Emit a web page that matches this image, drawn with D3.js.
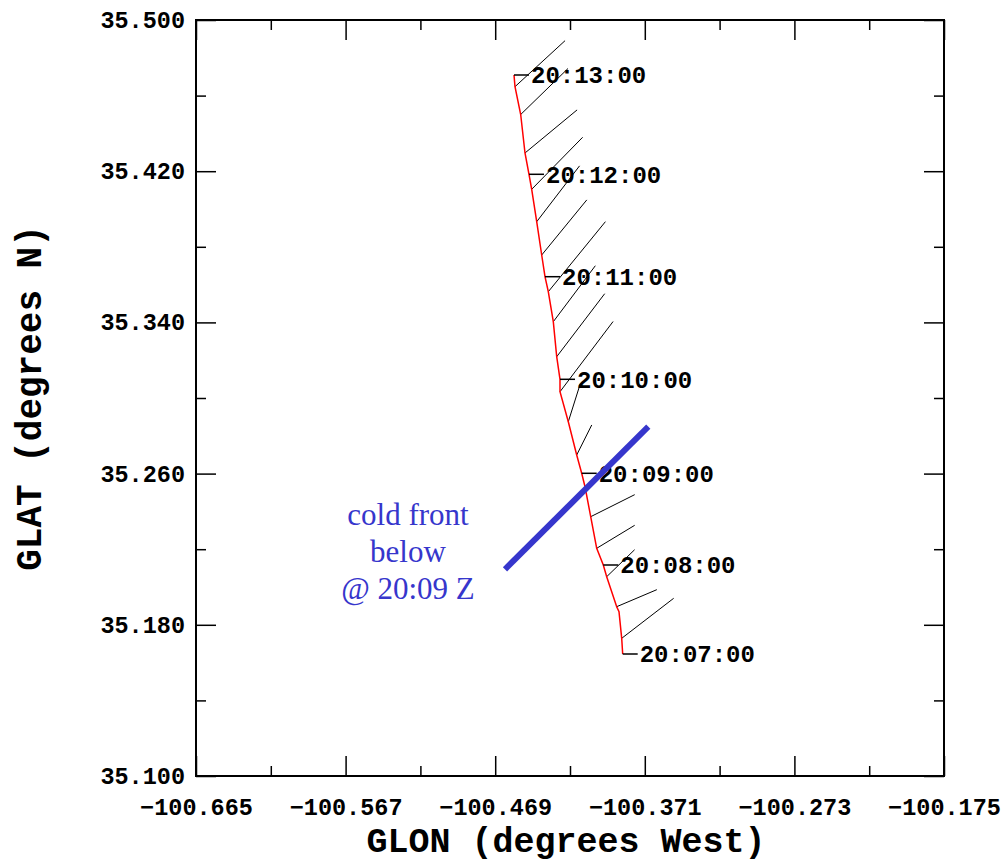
<!DOCTYPE html>
<html>
<head>
<meta charset="utf-8">
<script src="https://cdn.jsdelivr.net/npm/d3@7"></script>
<style>
  html, body { margin: 0; padding: 0; background: #ffffff; }
  svg { display: block; }
  .mono { font-family: "Liberation Mono", "DejaVu Sans Mono", monospace; font-weight: bold; }
</style>
</head>
<body>
<svg id="chart" width="1003" height="863"></svg>
<script>
// Aircraft track (GLON / GLAT), ordered in time from 20:07 to 20:13
const trackLon = [
  -100.38548, -100.38613, -100.38790, -100.38941, -100.39596, -100.39819,
  -100.40251, -100.40644, -100.41017, -100.41234, -100.41561, -100.42111,
  -100.42655, -100.42655, -100.42871, -100.43094, -100.43422, -100.43638,
  -100.43854, -100.44181, -100.44509, -100.44686, -100.44948, -100.45230,
  -100.45603, -100.45668
];
const trackLat = [
  35.16455, 35.17285, 35.18693, 35.18958, 35.20545, 35.21164,
  35.22047, 35.23720, 35.25307, 35.26016, 35.26984, 35.28746,
  35.30333, 35.30989, 35.32185, 35.34037, 35.35624, 35.36418,
  35.37566, 35.39328, 35.41042, 35.41836, 35.42963, 35.45000,
  35.46471, 35.47090
];
// Time stamp at whole minutes, empty elsewhere
const trackLabel = [
  "20:07:00", "", "", "", "", "20:08:00",
  "", "", "", "20:09:00", "", "",
  "", "20:10:00", "", "", "", "20:11:00",
  "", "", "", "20:12:00", "", "",
  "", "20:13:00"
];

// Wind vectors plotted from points along the track
const barbLon = [
  -100.38613, -100.38941, -100.39596, -100.40251, -100.40644, -100.41561,
  -100.42111, -100.42655, -100.42871, -100.43094, -100.43422, -100.43854,
  -100.44181, -100.44509, -100.44948, -100.45230, -100.45603
];
const barbLat = [
  35.17285, 35.18958, 35.20545, 35.22047, 35.23720, 35.26984,
  35.28746, 35.30333, 35.32185, 35.34037, 35.35624, 35.37566,
  35.39328, 35.41042, 35.42963, 35.45000, 35.46471
];
// direction the vector points (deg clockwise from north) and speed (kt)
const barbDir = [
  52.4, 67.0, 46.0, 58.8, 63.4, 26.6,
  17.5, 37.1, 37.3, 36.9, 39.2, 39.3,
  37.5, 44.4, 50.4, 45.8, 47.4
];
const barbSpeed = [
  16.4, 10.9, 9.7, 11.1, 12.3, 8.4,
  10.0, 22.0, 19.8, 17.5, 22.6, 17.8,
  17.6, 18.2, 16.9, 16.5, 17.0
];

// Analysed cold front position
const frontLon = [-100.46258, -100.36871];
const frontLat = [35.20937, 35.28481];
const frontNote = ["cold front", "below", "@ 20:09 Z"];
const frontNoteLon = -100.52612;
const frontNoteLat = 35.2328;

// Axis ticks
const xTicks = [-100.665, -100.567, -100.469, -100.371, -100.273, -100.175];
const xMinor = [-100.616, -100.518, -100.420, -100.322, -100.224];
const yTicks = [35.100, 35.180, 35.260, 35.340, 35.420, 35.500];
const yMinor = [35.140, 35.220, 35.300, 35.380, 35.460];

const svg = d3.select("#chart");
const margin = { left: 196, top: 20, right: 59, bottom: 87 };
const W = 1003 - margin.left - margin.right;
const H = 863 - margin.top - margin.bottom;

const x = d3.scaleLinear().domain([xTicks[0], xTicks[xTicks.length - 1]]).range([0, W]);
const y = d3.scaleLinear().domain([yTicks[0], yTicks[yTicks.length - 1]]).range([H, 0]);

const g = svg.append("g").attr("transform", `translate(${margin.left},${margin.top})`);

const minusFmt = d => (d < 0 ? "\u2212" : "") + Math.abs(d).toFixed(3);

function styleAxis(sel, fontSize) {
  sel.select(".domain").remove();
  sel.selectAll(".tick line").attr("stroke", "#000").attr("stroke-width", 1.5);
  sel.selectAll(".tick text")
    .attr("class", "mono")
    .attr("fill", "#000")
    .style("font-size", fontSize + "px");
}

// Major ticks (inside) with labels on bottom/left
g.append("g").attr("transform", `translate(0,${H})`)
  .call(d3.axisBottom(x).tickValues(xTicks).tickSize(-20).tickPadding(22).tickFormat(minusFmt))
  .call(s => styleAxis(s, 23.5));
g.append("g")
  .call(d3.axisLeft(y).tickValues(yTicks).tickSize(-20).tickPadding(11).tickFormat(d3.format(".3f")))
  .call(s => styleAxis(s, 23.5));
g.append("g")
  .call(d3.axisTop(x).tickValues(xTicks).tickSize(-20).tickFormat(""))
  .call(s => styleAxis(s, 10));
g.append("g").attr("transform", `translate(${W},0)`)
  .call(d3.axisRight(y).tickValues(yTicks).tickSize(-20).tickFormat(""))
  .call(s => styleAxis(s, 10));

// Minor ticks
g.append("g").attr("transform", `translate(0,${H})`)
  .call(d3.axisBottom(x).tickValues(xMinor).tickSize(-10).tickFormat(""))
  .call(s => styleAxis(s, 10));
g.append("g")
  .call(d3.axisTop(x).tickValues(xMinor).tickSize(-10).tickFormat(""))
  .call(s => styleAxis(s, 10));
g.append("g")
  .call(d3.axisLeft(y).tickValues(yMinor).tickSize(-10).tickFormat(""))
  .call(s => styleAxis(s, 10));
g.append("g").attr("transform", `translate(${W},0)`)
  .call(d3.axisRight(y).tickValues(yMinor).tickSize(-10).tickFormat(""))
  .call(s => styleAxis(s, 10));

// Plot frame
g.append("rect")
  .attr("x", 0).attr("y", 0).attr("width", W).attr("height", H)
  .attr("fill", "none").attr("stroke", "#000").attr("stroke-width", 2);

// Axis titles
svg.append("text")
  .attr("class", "mono")
  .attr("x", 566).attr("y", 852)
  .attr("text-anchor", "middle")
  .style("font-size", "35px")
  .text("GLON (degrees West)");
svg.append("text")
  .attr("class", "mono")
  .attr("transform", "translate(41,398) rotate(-90)")
  .attr("text-anchor", "middle")
  .style("font-size", "36px")
  .text("GLAT (degrees N)");

// Wind vectors
const pxPerKt = 4;
const barbs = barbLon.map((lon, i) => ({
  x0: x(lon), y0: y(barbLat[i]),
  dx: Math.sin(barbDir[i] * Math.PI / 180) * barbSpeed[i] * pxPerKt,
  dy: -Math.cos(barbDir[i] * Math.PI / 180) * barbSpeed[i] * pxPerKt
}));
g.append("g").selectAll("line").data(barbs).join("line")
  .attr("x1", d => d.x0).attr("y1", d => d.y0)
  .attr("x2", d => d.x0 + d.dx).attr("y2", d => d.y0 + d.dy)
  .attr("stroke", "#000").attr("stroke-width", 1);

// Track
const track = trackLon.map((lon, i) => ({ lon, lat: trackLat[i], label: trackLabel[i] }));
g.append("path")
  .datum(track)
  .attr("fill", "none")
  .attr("stroke", "#ff0000")
  .attr("stroke-width", 1.5)
  .attr("d", d3.line().x(d => x(d.lon)).y(d => y(d.lat)));

// Minute marks and time labels
const minutes = track.filter(d => d.label !== "");
g.append("g").selectAll("line").data(minutes).join("line")
  .attr("x1", d => x(d.lon)).attr("y1", d => y(d.lat))
  .attr("x2", d => x(d.lon) + 15).attr("y2", d => y(d.lat))
  .attr("stroke", "#000").attr("stroke-width", 1.5);
g.append("g").selectAll("text").data(minutes).join("text")
  .attr("class", "mono")
  .attr("x", d => x(d.lon) + 17).attr("y", d => y(d.lat))
  .attr("dy", "0.35em")
  .style("font-size", "24px")
  .attr("fill", "#000")
  .text(d => d.label);

// Cold front
g.append("line")
  .attr("x1", x(frontLon[0])).attr("y1", y(frontLat[0]))
  .attr("x2", x(frontLon[1])).attr("y2", y(frontLat[1]))
  .attr("stroke", "#3636cc").attr("stroke-width", 6);

g.append("g").selectAll("text").data(frontNote).join("text")
  .attr("x", x(frontNoteLon))
  .attr("y", (d, i) => y(frontNoteLat) + i * 37)
  .attr("text-anchor", "middle")
  .style("font-family", "'Liberation Serif', 'DejaVu Serif', serif")
  .style("font-size", "31px")
  .attr("fill", "#3636cc")
  .text(d => d);
</script>
</body>
</html>
